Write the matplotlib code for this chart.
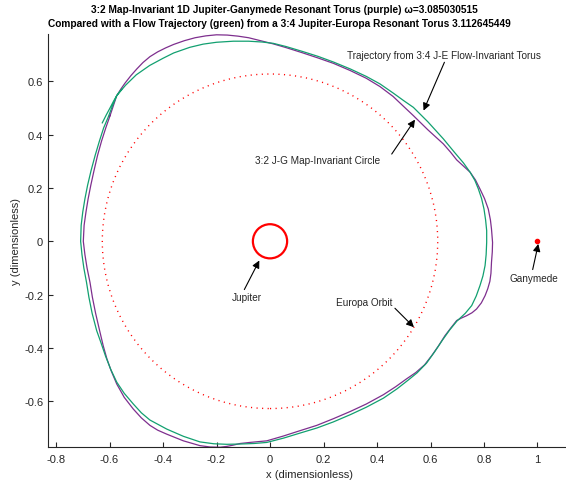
import matplotlib
matplotlib.use("Agg")
import matplotlib.pyplot as plt
from matplotlib.patches import Circle

plt.rcParams['font.family'] = ['Liberation Sans', 'DejaVu Sans']

# 3:2 map-invariant torus (purple), closed curve
purple_x = [-0.598, -0.585, -0.573, -0.558, -0.542, -0.520, -0.498, -0.475, -0.449, -0.420,
            -0.390, -0.360, -0.320, -0.280, -0.240, -0.200, -0.160, -0.120, -0.080, -0.040,
            0.012, 0.060, 0.120, 0.180, 0.237, 0.300, 0.360, 0.411, 0.460, 0.500,
            0.536, 0.590, 0.648, 0.675, 0.698, 0.722, 0.748, 0.768, 0.785, 0.802,
            0.816, 0.824, 0.828, 0.832, 0.831, 0.828, 0.826, 0.822, 0.814, 0.804,
            0.790, 0.772, 0.755, 0.735, 0.715, 0.698, 0.676, 0.654, 0.630, 0.605,
            0.578, 0.545, 0.510, 0.470, 0.424, 0.360, 0.300, 0.237, 0.175, 0.112,
            0.050, -0.012, -0.075, -0.112, -0.137, -0.162, -0.187, -0.225, -0.262, -0.324,
            -0.386, -0.420, -0.449, -0.481, -0.511, -0.545, -0.573, -0.594, -0.610, -0.624,
            -0.637, -0.652, -0.664, -0.673, -0.684, -0.692, -0.698, -0.695, -0.688, -0.680,
            -0.670, -0.658, -0.645, -0.630, -0.614, -0.598]
purple_y = [0.471, 0.510, 0.546, 0.570, 0.593, 0.621, 0.646, 0.670, 0.692, 0.710,
            0.725, 0.738, 0.752, 0.763, 0.770, 0.774, 0.773, 0.769, 0.763, 0.753,
            0.740, 0.726, 0.707, 0.687, 0.667, 0.640, 0.611, 0.580, 0.543, 0.505,
            0.471, 0.418, 0.365, 0.334, 0.305, 0.283, 0.259, 0.230, 0.196, 0.160,
            0.121, 0.080, 0.046, -0.004, -0.040, -0.079, -0.120, -0.150, -0.178, -0.204,
            -0.231, -0.254, -0.268, -0.279, -0.288, -0.297, -0.325, -0.354, -0.392, -0.428,
            -0.463, -0.492, -0.516, -0.545, -0.575, -0.610, -0.638, -0.665, -0.690, -0.710,
            -0.730, -0.748, -0.754, -0.758, -0.764, -0.769, -0.772, -0.771, -0.766, -0.748,
            -0.723, -0.708, -0.690, -0.662, -0.629, -0.585, -0.535, -0.485, -0.440, -0.390,
            -0.335, -0.270, -0.210, -0.154, -0.100, -0.050, 0.000, 0.060, 0.110, 0.159,
            0.210, 0.265, 0.321, 0.375, 0.425, 0.471]

# flow trajectory from the 3:4 Jupiter-Europa torus (green), a little over one lap
green_x = [-0.627, -0.613, -0.598, -0.585, -0.573, -0.540, -0.500, -0.450, -0.400, -0.360,
           -0.300, -0.250, -0.200, -0.137, -0.080, -0.030, 0.012, 0.060, 0.120, 0.180,
           0.237, 0.300, 0.360, 0.411, 0.460, 0.500, 0.536, 0.590, 0.648, 0.690,
           0.723, 0.748, 0.766, 0.779, 0.791, 0.800, 0.806, 0.810, 0.810, 0.808,
           0.804, 0.796, 0.785, 0.771, 0.754, 0.730, 0.698, 0.672, 0.645, 0.615,
           0.585, 0.550, 0.517, 0.475, 0.424, 0.360, 0.300, 0.237, 0.175, 0.112,
           0.050, -0.012, -0.060, -0.112, -0.162, -0.210, -0.262, -0.324, -0.386, -0.449,
           -0.481, -0.511, -0.545, -0.573, -0.596, -0.615, -0.632, -0.648, -0.665, -0.677,
           -0.686, -0.696, -0.703, -0.708, -0.706, -0.700, -0.692, -0.682, -0.669, -0.654,
           -0.638, -0.622, -0.605, -0.590, -0.573, -0.555]
green_y = [0.444, 0.472, 0.500, 0.525, 0.546, 0.585, 0.624, 0.659, 0.686, 0.706,
           0.727, 0.739, 0.746, 0.750, 0.750, 0.747, 0.742, 0.730, 0.712, 0.693,
           0.672, 0.646, 0.618, 0.590, 0.556, 0.527, 0.502, 0.448, 0.384, 0.333,
           0.294, 0.259, 0.228, 0.196, 0.160, 0.121, 0.080, 0.040, -0.004, -0.050,
           -0.091, -0.130, -0.166, -0.205, -0.241, -0.270, -0.300, -0.332, -0.370, -0.415,
           -0.457, -0.493, -0.520, -0.553, -0.588, -0.622, -0.650, -0.677, -0.700, -0.719,
           -0.738, -0.754, -0.758, -0.760, -0.761, -0.759, -0.752, -0.731, -0.704, -0.670,
           -0.643, -0.610, -0.570, -0.528, -0.479, -0.430, -0.380, -0.335, -0.270, -0.210,
           -0.154, -0.100, -0.050, 0.000, 0.060, 0.110, 0.159, 0.210, 0.265, 0.321,
           0.375, 0.425, 0.465, 0.505, 0.546, 0.570]

jupiter_center = (0.0, 0.0)
jupiter_radius = 0.064
europa_radius = 0.627
ganymede_pos = (1.0, 0.0)

xticks = [-0.8, -0.6, -0.4, -0.2, 0, 0.2, 0.4, 0.6, 0.8, 1.0]
xtick_labels = ['-0.8', '-0.6', '-0.4', '-0.2', '0', '0.2', '0.4', '0.6', '0.8', '1']
yticks = [-0.6, -0.4, -0.2, 0, 0.2, 0.4, 0.6]
ytick_labels = ['-0.6', '-0.4', '-0.2', '0', '0.2', '0.4', '0.6']

W, H = 566, 485
fig = plt.figure(figsize=(W / 100, H / 100), dpi=100)
ax = fig.add_axes([48 / W, (H - 447.7) / H, 524 / W, 412.7 / H])

axis_col = '#262626'
ax.plot(purple_x, purple_y, color='#7e2f8e', lw=0.9, solid_joinstyle='round')
ax.plot(green_x, green_y, color='#12a070', lw=0.9, solid_joinstyle='round')
ax.add_patch(Circle(jupiter_center, europa_radius, fill=False, ec='#ff0000',
                    lw=1.0, ls=(0, (0.8, 3.2))))
ax.add_patch(Circle(jupiter_center, jupiter_radius, fill=False, ec='#ff0000', lw=1.6))
ax.plot([ganymede_pos[0]], [ganymede_pos[1]], 'o', color='#ff0000', ms=3, mec='#ff0000')

ax.set_xlim(-0.830, 1.129)
ax.set_ylim(-0.770, 0.777)
ax.set_xticks(xticks)
ax.set_xticklabels(xtick_labels)
ax.set_yticks(yticks)
ax.set_yticklabels(ytick_labels)
for s in ['top', 'right']:
    ax.spines[s].set_visible(False)
for s in ['left', 'bottom']:
    ax.spines[s].set_color(axis_col)
    ax.spines[s].set_linewidth(0.8)
ax.tick_params(direction='in', length=3.6, width=0.8, color=axis_col,
               labelcolor=axis_col, labelsize=8)
ax.tick_params(axis='x', pad=5)
ax.set_xlabel('x (dimensionless)', fontsize=8, color=axis_col, labelpad=4)
ax.set_ylabel('y (dimensionless)', fontsize=8, color=axis_col, labelpad=2)

fig.text(284 / W, 1 - 10 / H,
         '3:2 Map-Invariant 1D Jupiter-Ganymede Resonant Torus (purple) \u03c9=3.085030515',
         ha='center', va='center', fontsize=7.3, fontweight='bold')
fig.text(279 / W, 1 - 24 / H,
         'Compared with a Flow Trajectory (green) from a 3:4 Jupiter-Europa Resonant Torus 3.112645449',
         ha='center', va='center', fontsize=7.3, fontweight='bold')

arrow = dict(arrowstyle='-|>', color='k', lw=0.8, mutation_scale=11,
             shrinkA=0, shrinkB=0)
notes = [
    ('Trajectory from 3:4 J-E Flow-Invariant Torus', (0.652, 0.700), (0.652, 0.671), (0.574, 0.490)),
    ('3:2 J-G Map-Invariant Circle', (0.179, 0.305), (0.455, 0.327), (0.542, 0.456)),
    ('Jupiter', (-0.087, -0.208), (-0.096, -0.181), (-0.040, -0.072)),
    ('Europa Orbit', (0.352, -0.226), (0.467, -0.251), (0.538, -0.322)),
    ('Ganymede', (0.987, -0.138), (0.982, -0.106), (1.003, -0.010)),
]
for txt, tpos, a0, a1 in notes:
    ax.text(tpos[0], tpos[1], txt, ha='center', va='center', fontsize=7.2, color='#262626')
    ax.annotate('', xy=a1, xytext=a0, arrowprops=arrow)

fig.savefig('out.png', dpi=100)
